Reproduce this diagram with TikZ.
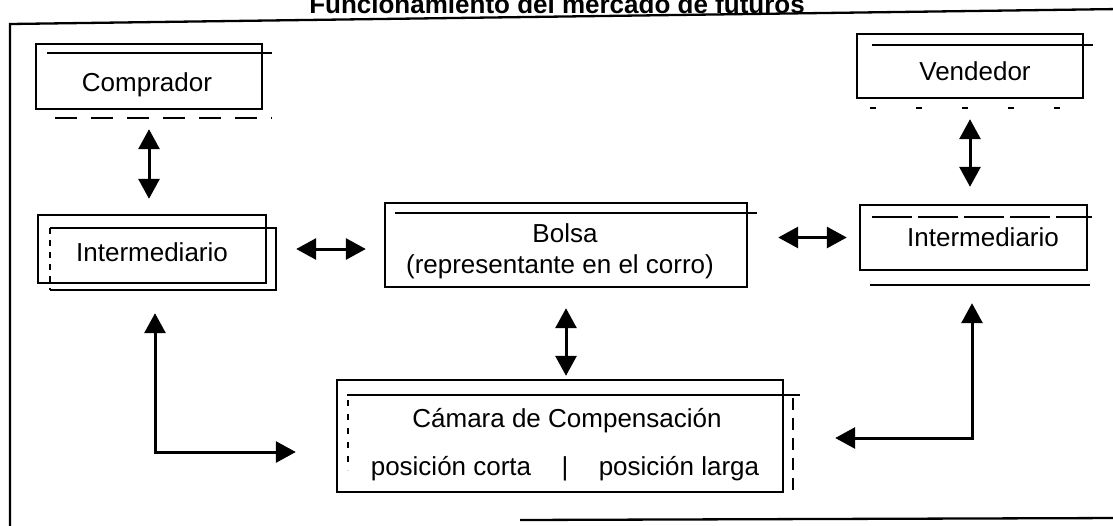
\documentclass[tikz,border=0pt]{standalone}
\usepackage{fontspec}
\setmainfont{Liberation Sans}
\usetikzlibrary{arrows.meta}
\begin{document}
\begin{tikzpicture}[x=1pt,y=-1pt,
  box/.style={draw, line width=2.4pt, inner sep=0pt},
  lbl/.style={font=\fontsize{26}{30}\selectfont, inner sep=0pt, text height=18.6pt, text depth=0pt, anchor=center},
  dbl/.style={line width=3pt, {Triangle[length=20pt,width=21pt]}-{Triangle[length=20pt,width=21pt]}},
  ghost/.style={line width=1.3pt},
  frame/.style={line width=2.3pt}]
\useasboundingbox (0,0) rectangle (1113,525);
% title (cut at top)
\node[font=\bfseries\fontsize{26}{30}\selectfont, inner sep=0pt, anchor=base] (title) at (557,13) {Funcionamiento del mercado de futuros};
% outer frame
\draw[frame] (10,530) -- (10,24) -- (1120,9);
\draw[frame] (520,520) -- (1120,518);
% boxes
\node[box, minimum width=226pt, minimum height=65pt] (comp) at (149,76.5) {};
\node[box, minimum width=226pt, minimum height=64pt] (vend) at (970,66) {};
\node[box, minimum width=228pt, minimum height=68pt] (intL) at (152,249) {};
\node[box, minimum width=227pt, minimum height=65pt] (intR) at (973.5,237.5) {};
\node[box, minimum width=362pt, minimum height=84pt] (bolsa) at (566,245) {};
\node[box, minimum width=446pt, minimum height=112pt] (cam) at (560,436) {};
% scan ghost lines
\draw[ghost] (47,53) -- (272,53);
\draw[ghost, dashed, dash pattern=on 22pt off 14pt] (55,118) -- (272,118);
\draw[ghost] (872,45) -- (1093,45);
\draw[ghost, dash pattern=on 6pt off 40pt] (870,108) -- (1083,108);
\draw[ghost] (50,290) -- (276,290) -- (276,228) -- (50,228);
\draw[ghost, dash pattern=on 6pt off 6pt] (50,228) -- (50,290);
\draw[ghost, dash pattern=on 40pt off 6pt] (872,217) -- (1092,217);
\draw[ghost] (870,285) -- (1090,285);
\draw[ghost] (395,213) -- (757,213);
\draw[ghost] (347,395) -- (800,395);
\draw[ghost, dash pattern=on 12pt off 8pt] (793,398) -- (793,495);
\draw[ghost, dash pattern=on 6pt off 8pt] (348,400) -- (348,470);
% labels
\node[lbl] (compT) at (147,82) {Comprador};
\node[lbl] (vendT) at (975,71.5) {Vendedor};
\node[lbl] (intLT) at (152,252) {Intermediario};
\node[lbl] (intRT) at (983,237) {Intermediario};
\node[lbl] (bolsaT) at (565,233) {Bolsa};
\node[lbl] (bolsaS) at (560,264) {(representante en el corro)};
\node[lbl] (camT) at (567,418) {Cámara de Compensación};
\node[lbl] (camC) at (451,466) {posición corta};
\node[lbl] (camB) at (565,466) {|};
\node[lbl] (camL) at (679,466) {posición larga};
% connectors
\draw[dbl, shorten <=19pt, shorten >=15pt] (comp.south) -- (comp.south |- intL.north);
\draw[dbl, shorten <=29pt, shorten >=18pt] (intL.east) -- (intL.east -| bolsa.west);
\draw[dbl, shorten <=30pt, shorten >=12pt] (intR.west -| bolsa.east) -- (intR.west);
\draw[dbl, shorten <=20pt, shorten >=17pt] (vend.south) -- (vend.south |- intR.north);
\draw[dbl, shorten <=20pt, shorten >=3pt] (bolsa.south) -- (bolsa.south |- cam.north);
\coordinate (cL) at (155,452);
\coordinate (cR) at (972,438);
\draw[dbl, shorten <=29pt, shorten >=40pt] (intL.south -| cL) -- (cL) -- (cL -| cam.west);
\draw[dbl, shorten <=32pt, shorten >=51pt] (intR.south -| cR) -- (cR) -- (cR -| cam.east);
\end{tikzpicture}
\end{document}
